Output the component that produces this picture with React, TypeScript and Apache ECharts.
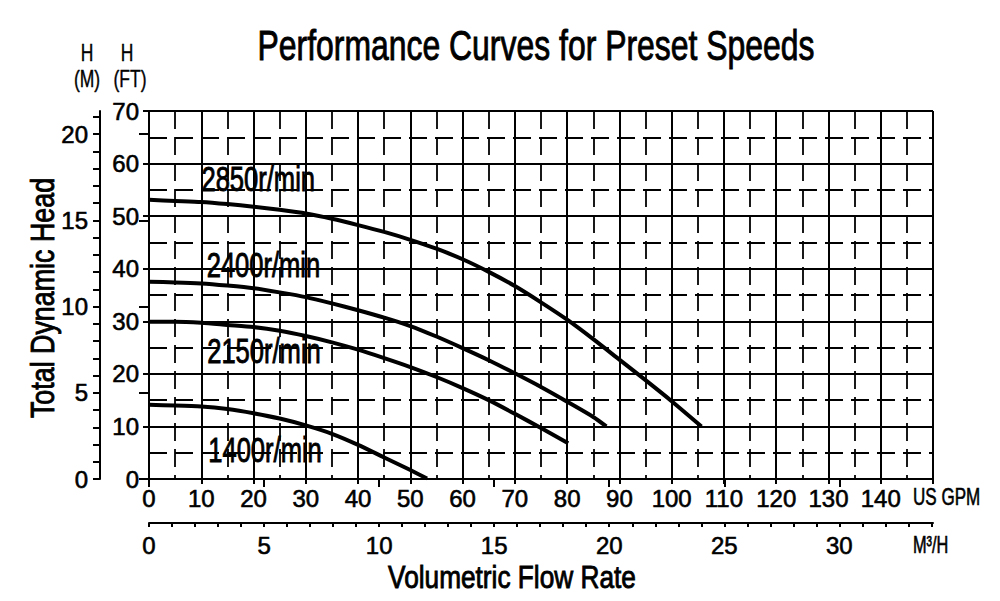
import React, { useEffect, useRef } from "react";
import * as echarts from "echarts";

const FONT = "'Liberation Sans', Arial, sans-serif";

// Flow (US GPM) vs head (ft)
const gpm2850 = [0, 5, 10, 15, 20, 25, 30, 35, 40, 45, 50, 55, 60, 65, 70, 75, 80, 85, 90, 95, 100, 105.7];
const ft2850 = [53.1, 52.9, 52.7, 52.3, 51.8, 51.2, 50.5, 49.5, 48.3, 47.0, 45.5, 43.8, 41.8, 39.4, 36.7, 33.6, 30.3, 26.6, 22.7, 18.8, 14.8, 10.0];

const gpm2400 = [0, 5, 10, 15, 20, 25, 30, 35, 40, 45, 50, 55, 60, 65, 70, 75, 80, 85, 87.5];
const ft2400 = [37.5, 37.4, 37.2, 36.8, 36.3, 35.5, 34.6, 33.4, 32.1, 30.7, 29.1, 27.1, 24.9, 22.6, 20.1, 17.5, 14.7, 11.8, 10.0];

const gpm2150 = [0, 5, 10, 15, 20, 25, 30, 35, 40, 45, 50, 55, 60, 65, 70, 75, 80.2];
const ft2150 = [29.9, 29.9, 29.7, 29.3, 28.9, 28.2, 27.2, 26.0, 24.6, 23.0, 21.3, 19.4, 17.3, 15.0, 12.4, 9.7, 6.8];

const gpm1400 = [0, 5, 10, 15, 20, 25, 30, 35, 40, 45, 50, 53.2];
const ft1400 = [14.1, 14.0, 13.8, 13.3, 12.5, 11.5, 10.2, 8.6, 6.5, 4.1, 1.7, 0.1];

const speedLabels = ["2850r/min", "2400r/min", "2150r/min", "1400r/min"];
const speedLabelX = [20.9, 21.9, 22.0, 22.2];
const speedLabelY = [57.2, 40.8, 24.4, 5.7];

const GPM_MAX = 150;
const FT_MAX = 70;
const GPM_PER_M3H = 4.402868;
const FT_PER_M = 3.28084;
const M3H_MAX = GPM_MAX / GPM_PER_M3H;
const M_MAX = FT_MAX / FT_PER_M;

const m3hMinorTicks = Array.from({ length: 35 }, (_, i) => i);
const m3hMajorTicks = [0, 5, 10, 15, 20, 25, 30];
const mMinorTicks = Array.from({ length: 22 }, (_, i) => i);
const mMajorTicks = [0, 5, 10, 15, 20];

const zip = (xs: number[], ys: number[]) => xs.map((x, i) => [x, ys[i]]);

export default function App() {
  const ref = useRef<HTMLDivElement>(null);
  useEffect(() => {
    document.body.style.margin = "0";
    const chart = echarts.init(ref.current!, null, { renderer: "svg" });
    const solid = { color: "#000", width: 2, type: "solid" as const };
    const dashed = { color: "#000", width: 1.8, type: [18, 8] as any };
    const tickFont = {
      color: "#000",
      fontSize: 24,
      fontFamily: FONT,
      textBorderColor: "#000",
      textBorderWidth: 0.6,
    };
    const curve = (name: string, data: number[][]) => ({
      name,
      type: "line",
      data,
      smooth: 0.25,
      showSymbol: false,
      symbol: "none",
      lineStyle: { color: "#000", width: 4 },
      z: 5,
    });
    const txt = (
      text: string,
      x: number,
      y: number,
      size: number,
      sx: number,
      align = "center",
      rotation = 0,
      bold = 0.8
    ) => ({
      type: "text",
      x,
      y,
      rotation,
      scaleX: sx,
      z: 10,
      style: {
        text,
        fill: "#000",
        fontSize: size,
        fontFamily: FONT,
        align,
        textAlign: align,
        verticalAlign: "middle",
        textVerticalAlign: "middle",
        stroke: "#000",
        lineWidth: bold,
      },
    });
    chart.setOption({
      animation: false,
      grid: { left: 149, top: 111, right: 67, bottom: 122, containLabel: false },
      xAxis: [
        {
          type: "value",
          min: 0,
          max: GPM_MAX,
          interval: 10,
          axisLine: { show: true, lineStyle: solid },
          axisTick: { show: true, length: 5, lineStyle: solid },
          axisLabel: { ...tickFont, margin: 7, formatter: (v: number) => (v === GPM_MAX ? "" : String(v)) },
          splitLine: { show: true, lineStyle: solid },
          minorTick: { show: true, splitNumber: 2, length: 0 },
          minorSplitLine: { show: true, lineStyle: dashed },
        },
        {
          type: "value",
          min: 0,
          max: M3H_MAX,
          position: "bottom",
          offset: 44,
          axisLine: { show: true, onZero: false, lineStyle: solid },
          axisTick: { show: true, length: 4, customValues: m3hMinorTicks, lineStyle: { color: "#000", width: 2 } },
          axisLabel: { ...tickFont, margin: 10, customValues: m3hMajorTicks },
          splitLine: { show: false },
        },
        {
          type: "value",
          min: 0,
          max: M3H_MAX,
          position: "bottom",
          offset: 44,
          axisLine: { show: false },
          axisTick: { show: true, length: 8, customValues: m3hMajorTicks, lineStyle: { color: "#000", width: 2 } },
          axisLabel: { show: false },
          splitLine: { show: false },
        },
      ],
      yAxis: [
        {
          type: "value",
          min: 0,
          max: FT_MAX,
          interval: 10,
          axisLine: { show: true, lineStyle: solid },
          axisTick: { show: true, length: 6, lineStyle: solid },
          axisLabel: { ...tickFont, margin: 10 },
          splitLine: { show: true, lineStyle: solid },
          minorTick: { show: true, splitNumber: 2, length: 0 },
          minorSplitLine: { show: true, lineStyle: dashed },
        },
        {
          type: "value",
          min: 0,
          max: M_MAX,
          position: "left",
          offset: 49,
          axisLine: { show: true, onZero: false, lineStyle: solid },
          axisTick: { show: true, length: 7, customValues: mMinorTicks, lineStyle: { color: "#000", width: 2 } },
          axisLabel: { ...tickFont, margin: 12, customValues: mMajorTicks },
          splitLine: { show: false },
        },
        {
          type: "value",
          min: 0,
          max: M_MAX,
          position: "left",
          offset: 49,
          axisLine: { show: false },
          axisTick: { show: true, length: 10, customValues: mMajorTicks, lineStyle: { color: "#000", width: 2 } },
          axisLabel: { show: false },
          splitLine: { show: false },
        },
      ],
      series: [
        curve("2850r/min", zip(gpm2850, ft2850)),
        curve("2400r/min", zip(gpm2400, ft2400)),
        curve("2150r/min", zip(gpm2150, ft2150)),
        curve("1400r/min", zip(gpm1400, ft1400)),
      ],
    });

    const labelGraphics = speedLabels.map((t, i) => {
      const p = chart.convertToPixel({ xAxisIndex: 0, yAxisIndex: 0 }, [speedLabelX[i], speedLabelY[i]]) as number[];
      return txt(t, p[0], p[1], 35, 0.73, "center", 0, 0.9);
    });

    chart.setOption({
      graphic: [
        txt("Performance Curves for Preset Speeds", 536, 45, 42, 0.76, "center", 0, 0.9),
        txt("H", 87, 53, 23, 0.76, "center", 0, 0.4),
        txt("(M)", 87, 79, 23, 0.76, "center", 0, 0.4),
        txt("H", 127, 53, 23, 0.76, "center", 0, 0.4),
        txt("(FT)", 130, 79, 23, 0.76, "center", 0, 0.4),
        txt("US GPM", 913, 496, 24, 0.71, "left", 0, 0.6),
        txt("M³/H", 913, 544, 24, 0.68, "left", 0, 0.6),
        txt("Total Dynamic Head", 42, 298, 34, 0.79, "center", Math.PI / 2, 0.9),
        txt("Volumetric Flow Rate", 512, 577, 32, 0.82, "center", 0, 0.9),
        ...labelGraphics,
      ],
    });
    return () => chart.dispose();
  }, []);
  return <div ref={ref} style={{ width: 1000, height: 601 }} />;
}
